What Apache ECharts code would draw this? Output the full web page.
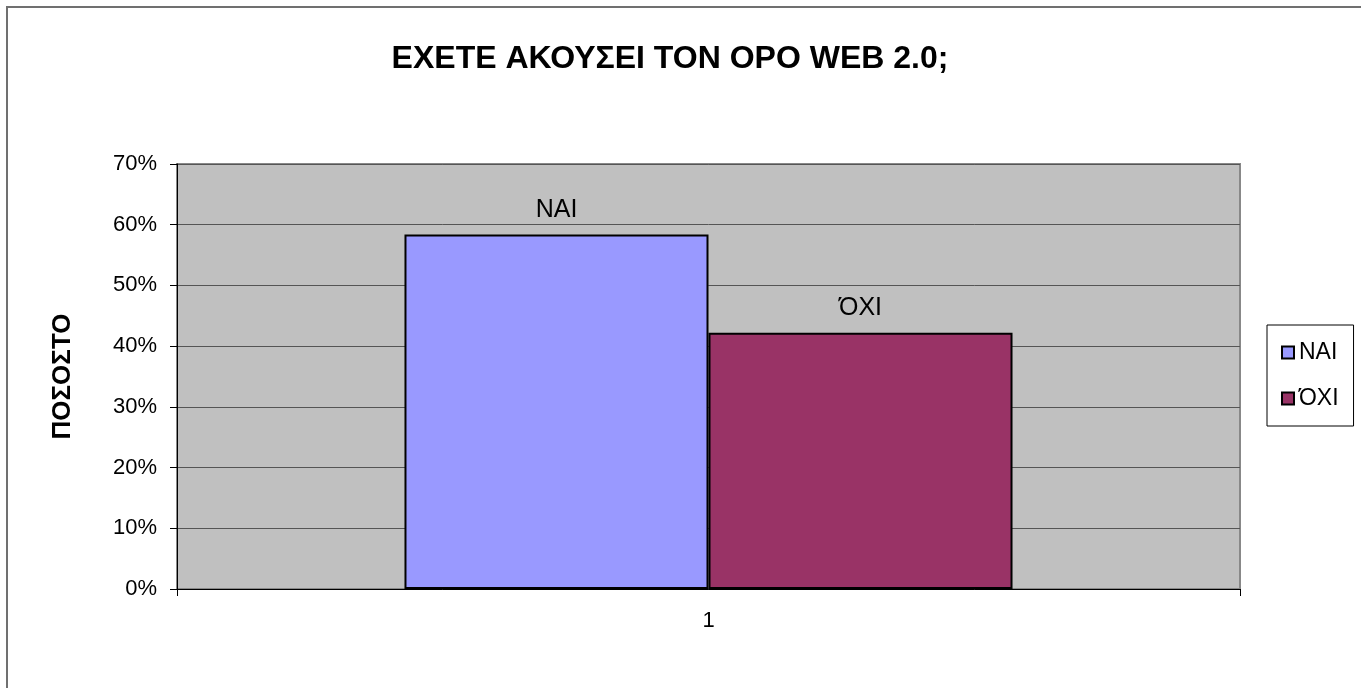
<!DOCTYPE html>
<html>
<head>
<meta charset="utf-8">
<script src="https://cdn.jsdelivr.net/npm/echarts@6/dist/echarts.min.js"></script>
<style>
  html, body { margin: 0; padding: 0; background: #fff; }
  #chart { width: 1361px; height: 688px; }
</style>
</head>
<body>
<div id="chart"></div>
<script>
// data
const categories = ["1"];
const seriesNames = ["NAI", "ΌΧΙ"];
const naiValues = [58.4];
const oxiValues = [42.2];
const yTicks = { min: 0, max: 70, step: 10 };

const chart = echarts.init(document.getElementById("chart"));
const font = "Liberation Sans, Arial, sans-serif";

const barLabel = {
  show: true,
  position: "top",
  distance: 12,
  formatter: "{a}",
  fontFamily: font,
  fontSize: 25,
  color: "#000"
};

chart.setOption({
  animation: false,
  title: {
    text: "ΕΧΕΤΕ ΑΚΟΥΣΕΙ ΤΟΝ ΟΡΟ WEB 2.0;",
    left: 665,
    textAlign: "center",
    top: 38,
    textStyle: { fontFamily: font, fontSize: 32, fontWeight: "bold", color: "#000" }
  },
  graphic: [
    {
      type: "rect",
      z: -10,
      shape: { x: 7, y: 7, width: 1420, height: 720 },
      style: { fill: "none", stroke: "#707070", lineWidth: 2 }
    }
  ],
  legend: {
    orient: "vertical",
    left: 1267,
    top: 325,
    borderColor: "#000",
    borderWidth: 1,
    padding: [16, 15, 16, 14],
    itemGap: 23,
    itemWidth: 12,
    itemHeight: 12,
    icon: "rect",
    textStyle: { fontFamily: font, fontSize: 23, color: "#000" },
    data: [
      { name: seriesNames[0], itemStyle: { borderColor: "#000", borderWidth: 2 } },
      { name: seriesNames[1], itemStyle: { borderColor: "#000", borderWidth: 2 } }
    ]
  },
  grid: {
    left: 177,
    right: 121,
    top: 164,
    bottom: 99,
    show: true,
    backgroundColor: "#c0c0c0",
    borderColor: "#888",
    borderWidth: 2
  },
  xAxis: {
    type: "category",
    data: categories,
    boundaryGap: true,
    axisLine: { lineStyle: { color: "#000", width: 1 } },
    axisTick: { show: true, length: 7, lineStyle: { color: "#000" } },
    axisLabel: { fontFamily: font, fontSize: 22, color: "#000", margin: 21 }
  },
  yAxis: {
    type: "value",
    min: yTicks.min,
    max: yTicks.max,
    interval: yTicks.step,
    name: "ΠΟΣΟΣΤΟ",
    nameLocation: "middle",
    nameRotate: 90,
    nameGap: 101,
    nameTextStyle: { fontFamily: font, fontSize: 26, fontWeight: "bold", color: "#000" },
    axisLine: { show: true, lineStyle: { color: "#000", width: 1 } },
    axisTick: { show: true, length: 7, lineStyle: { color: "#000" } },
    axisLabel: { fontFamily: font, fontSize: 22, color: "#000", margin: 20, formatter: "{value}%" },
    splitLine: { show: true, lineStyle: { color: "#555", width: 1 } }
  },
  series: [
    {
      name: seriesNames[0],
      type: "bar",
      barGap: "0%",
      barCategoryGap: "42.8%",
      data: naiValues,
      itemStyle: { color: "#9999ff", borderColor: "#000", borderWidth: 2 },
      label: barLabel
    },
    {
      name: seriesNames[1],
      type: "bar",
      data: oxiValues,
      itemStyle: { color: "#993366", borderColor: "#000", borderWidth: 2 },
      label: barLabel
    }
  ]
});
</script>
</body>
</html>
